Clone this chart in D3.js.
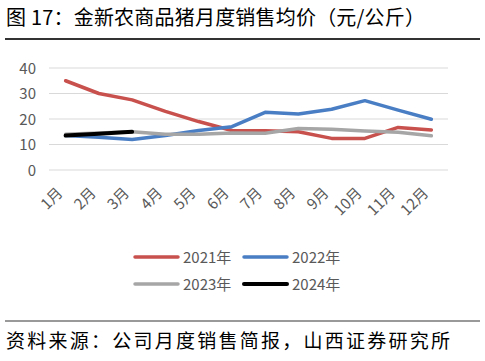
<!DOCTYPE html>
<html><head><meta charset="utf-8">
<script src="https://cdn.jsdelivr.net/npm/d3@7/dist/d3.min.js"></script>
<style>body{margin:0;background:#fff}svg{display:block}</style>
</head><body>
<svg id="c" width="485" height="361"></svg>
<script>
const months = ["1月","2月","3月","4月","5月","6月","7月","8月","9月","10月","11月","12月"];
const s2021 = [35,30,27.5,23,19,15.5,15.4,15,12.4,12.4,16.7,15.7];
const s2022 = [13.5,12.8,12,13.5,15.5,17,22.6,22,23.8,27.2,23.5,19.9];
const s2023 = [14,14.5,15,14,14,14.5,14.4,16.3,16,15.3,14.8,13.4];
const s2024 = [13.5,14.2,15];
const seriesNames = ["2021年","2022年","2023年","2024年"];
const yTicks = [0,10,20,30,40];
const colors = ["#C8504D","#4A7EC4","#A6A6A6","#000000"];

const svg = d3.select("#c");
const font = "'Noto Sans CJK SC','Noto Sans',sans-serif";
const x = d3.scaleBand().domain(months).range([49,448]);
const y = d3.scaleLinear().domain([0,40]).range([170,68]);

// title
svg.append("text").attr("x",6).attr("y",25).attr("font-family",font).attr("font-size",20)
  .attr("fill","#000").attr("textLength",419).attr("lengthAdjust","spacing")
  .text("图 17：金新农商品猪月度销售均价（元/公斤）");
svg.append("line").attr("x1",5).attr("x2",480).attr("y1",39).attr("y2",39)
  .attr("stroke","#333").attr("stroke-width",2);

// grid
svg.append("g").selectAll("line").data(yTicks).join("line")
  .attr("x1",49).attr("x2",448).attr("y1",d=>y(d)).attr("y2",d=>y(d))
  .attr("stroke","#d9d9d9").attr("stroke-width",1);
svg.append("g").selectAll("text").data(yTicks).join("text")
  .attr("x",36).attr("y",d=>y(d)+5.5).attr("text-anchor","end")
  .attr("font-family",font).attr("font-size",15).attr("fill","#595959").text(d=>d);

// x labels
svg.append("g").selectAll("text").data(months).join("text")
  .attr("transform",d=>`translate(${x(d)+x.bandwidth()/2-2},${194}) rotate(-45)`)
  .attr("text-anchor","end").attr("font-family",font).attr("font-size",15)
  .attr("fill","#595959").text(d=>d);

// lines
const line = d3.line().x((d,i)=>x(months[i])+x.bandwidth()/2).y(d=>y(d));
const all = [s2021,s2022,s2023,s2024];
all.forEach((s,i)=>{
  svg.append("path").datum(s).attr("d",line).attr("fill","none")
    .attr("stroke",colors[i]).attr("stroke-width",i===3?4:3.5)
    .attr("stroke-linejoin","round").attr("stroke-linecap","round");
});

// legend
const legPos = [[135,257],[244,257],[135,284],[244,284]];
seriesNames.forEach((n,i)=>{
  const [lx,ly] = legPos[i];
  svg.append("line").attr("x1",lx).attr("x2",lx+43).attr("y1",ly).attr("y2",ly)
    .attr("stroke",colors[i]).attr("stroke-width",i===3?4:3.5).attr("stroke-linecap","round");
  svg.append("text").attr("x",lx+48).attr("y",ly+5.5).attr("font-family",font)
    .attr("font-size",15).attr("fill","#595959").text(n);
});

// footer
svg.append("line").attr("x1",5).attr("x2",480).attr("y1",321).attr("y2",321)
  .attr("stroke","#777").attr("stroke-width",1.5);
svg.append("text").attr("x",6).attr("y",348).attr("font-family",font).attr("font-size",19)
  .attr("fill","#000").attr("textLength",444).attr("lengthAdjust","spacing")
  .text("资料来源：公司月度销售简报，山西证券研究所");
</script>
</body></html>
